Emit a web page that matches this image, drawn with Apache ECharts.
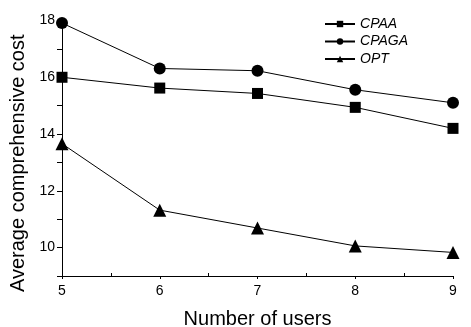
<!DOCTYPE html>
<html><head><meta charset="utf-8">
<script src="https://cdn.jsdelivr.net/npm/echarts@6/dist/echarts.min.js"></script>
<style>html,body{margin:0;padding:0;background:#fff}#c{width:471px;height:327px}</style>
</head><body><div id="c"></div>
<script>
const users = [5, 6, 7, 8, 9];
const cpaa  = [16.0, 15.62, 15.43, 14.94, 14.2];
const cpaga = [17.91, 16.31, 16.23, 15.56, 15.1];
const opt   = [13.66, 11.32, 10.69, 10.06, 9.83];
const seriesNames = ['CPAA', 'CPAGA', 'OPT'];
const font = 'Liberation Sans, Arial, sans-serif';

function pairs(vals){ return users.map((u,i)=>[u, vals[i]]); }
function mk(name, vals, symbol, size){
  return {name, type:'line', data:pairs(vals), symbol, symbolSize:size, clip:false,
    itemStyle:{color:'#000'}, lineStyle:{color:'#000', width:1}};
}
const chart = echarts.init(document.getElementById('c'), null, {renderer:'canvas'});
chart.setOption({
  animation:false,
  grid:{left:62, right:18, top:20.5, bottom:51, containLabel:false, outerBoundsMode:'none'},
  legend:{right:58, top:12, orient:'vertical', itemGap:3.5, itemWidth:30, itemHeight:8,
    textStyle:{fontFamily:font, fontStyle:'italic', fontSize:14, color:'#000'},
    data:seriesNames},
  xAxis:{type:'value', min:5, max:9, interval:1, name:'Number of users', nameLocation:'middle', nameGap:33,
    nameTextStyle:{fontFamily:font, fontSize:20, color:'#000'},
    axisLine:{lineStyle:{color:'#000', width:1}},
    axisTick:{inside:false, length:3, lineStyle:{color:'#000'}},
    minorTick:{show:true, splitNumber:2, length:-3, lineStyle:{color:'#000'}},
    axisLabel:{fontFamily:font, fontSize:14, color:'#000', margin:8},
    splitLine:{show:false}},
  yAxis:{type:'value', min:9, max:18, interval:1, name:'Average comprehensive cost', nameLocation:'middle', nameGap:30,
    nameTextStyle:{fontFamily:font, fontSize:20, color:'#000', padding:[0,30,0,0]},
    axisLine:{show:true, lineStyle:{color:'#000', width:1}},
    axisTick:{show:true, length:5, lineStyle:{color:'#000'}},
    axisLabel:{fontFamily:font, fontSize:14, color:'#000', margin:7,
      formatter:v=> (v%2===0 && v>=10) ? String(v) : ''},
    splitLine:{show:false}},
  series:[mk('CPAA', cpaa, 'rect', 11), mk('CPAGA', cpaga, 'circle', 12), mk('OPT', opt, 'triangle', 13)]
});
</script></body></html>
